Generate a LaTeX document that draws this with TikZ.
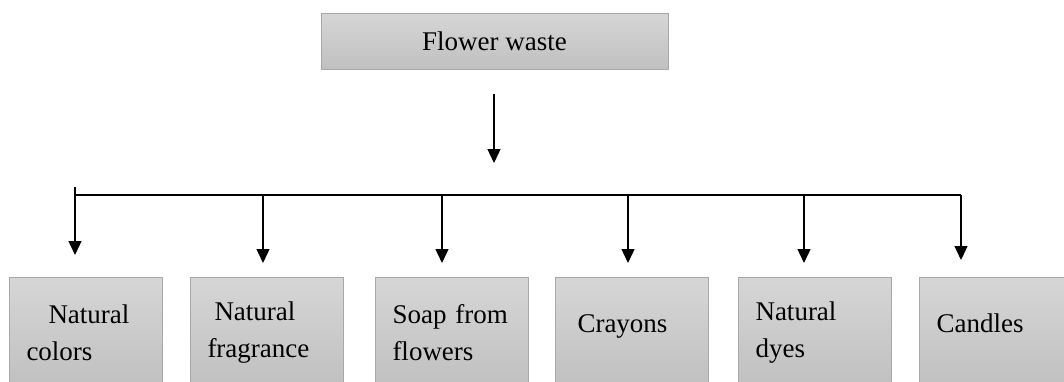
\documentclass[tikz,border=0pt]{standalone}
\usepackage{fontspec}
\setmainfont{Liberation Serif}
\usepackage{tikz}
\usetikzlibrary{arrows.meta}
\definecolor{boxtop}{RGB}{214,214,214}
\definecolor{boxbottom}{RGB}{192,192,192}
\definecolor{boxline}{RGB}{168,168,168}
\tikzset{%
  every box/.style={
    rectangle,
    draw=boxline,
    line width=1pt,
    top color=boxtop,
    bottom color=boxbottom,
    text=black,
    font=\fontsize{27}{37}\selectfont
  },
  use box/.style={
    every box,
    anchor=north west,
    minimum width=153pt,
    minimum height=110pt,
    inner xsep=17pt,
    text width=119pt,
    align=left
  },
  one line/.style={
    text depth=18pt
  },
}

\begin{document}
\begin{tikzpicture}[> = {Triangle[width=13pt,length=14pt]}, x=1pt, y=-1pt]
\useasboundingbox (0,0) rectangle (1064,381);
\clip (0,0) rectangle (1064,381);
\node[every box, minimum width=347pt, minimum height=56pt] (waste) at (494.5,41) {Flower waste};

    % products of the waste
    \node[use box] (colors) at (9,277) {\hspace*{22pt}Natural\\colors};
    \node[use box] (fragrance) at (190,277) {\hspace*{7pt}Natural\\fragrance};
    \node[use box] (soap) at (375,277) {Soap from\\flowers};
    \node[use box, one line] (crayons) at (555,277) {\hspace*{5pt}Crayons};
    \node[use box] (dyes) at (738,277) {Natural\\dyes};
    \node[use box, one line] (candles) at (919,277) {Candles};

    \coordinate (split_top) at (494,94);
    \coordinate (split) at (494,163);
    \coordinate (bus_l) at (75,195);
    \coordinate (bus_r) at (961,195);
    \foreach \n/\x/\s/\t in {1/75/187/255, 2/263/195/263, 3/442/195/263, 4/628/195/263, 5/804/195/263, 6/961/195/260}
    {
        \coordinate (drop_\n) at (\x,\s);
        \coordinate (tip_\n) at (\x,\t);
    }

   \draw[line width=1.3pt, ->]  (split_top) -- (split);
   \draw[line width=1.5pt]  (bus_l) -- (bus_r);
    \foreach \n in {1,...,6}
        \draw[line width=1.3pt, ->]  (drop_\n) -- (tip_\n);
\end{tikzpicture}
\end{document}
